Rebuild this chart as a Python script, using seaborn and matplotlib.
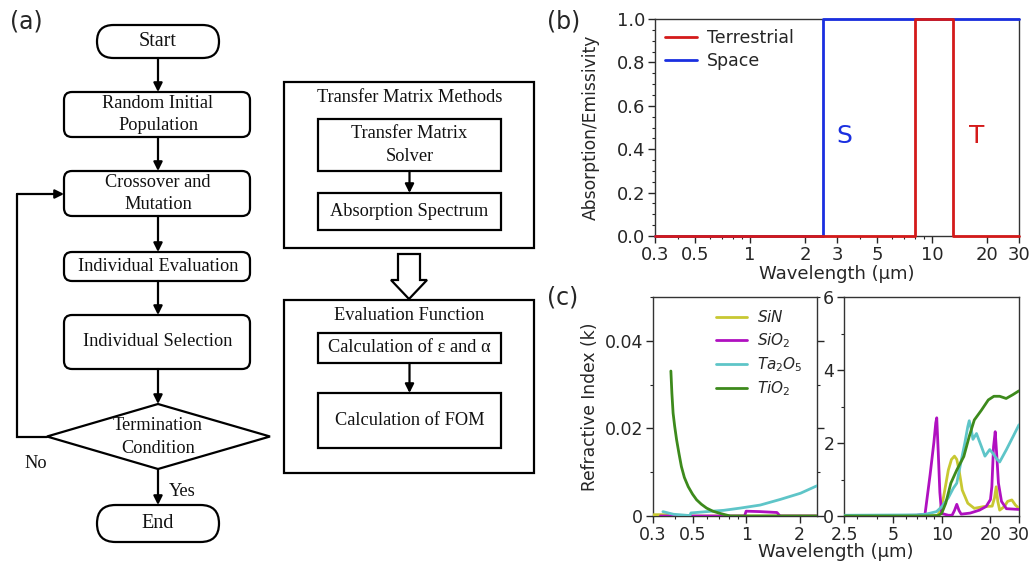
import numpy as np
import matplotlib
matplotlib.use('Agg')
import matplotlib.pyplot as plt
import seaborn as sns
from matplotlib.patches import FancyBboxPatch, Rectangle, Polygon
from matplotlib.ticker import FixedLocator, FixedFormatter, LogLocator, NullFormatter, MultipleLocator

sns.set_style('ticks')
plt.rcParams['font.family'] = ['DejaVu Sans']
plt.rcParams['mathtext.fontset'] = 'dejavusans'

# (b) ideal absorption / emissivity windows
terr_edges = [0.3, 8, 13, 30]
terr_vals = [0, 1, 0, 0]
space_edges = [0.3, 2.5, 30]
space_vals = [0, 1, 1]
b_ticks = [0.3, 0.5, 1, 2, 3, 5, 10, 20, 30]
b_labels = ['0.3', '0.5', '1', '2', '3', '5', '10', '20', '30']

# (c) extinction coefficient k, 0.3-2.5 um
sin_uv_x = [0.3, 0.36, 0.37, 2.5]
sin_uv_k = [0.0003, 0.0003, 0.0, 0.0]
sio2_uv_x = [0.33, 0.98, 1.0, 1.2, 1.49, 1.55, 2.5]
sio2_uv_k = [0.0, 0.0, 0.0011, 0.001, 0.0008, 0.0, 0.0]
ta2o5_uv_x = [0.341, 0.39, 0.483, 0.49, 0.60, 0.75, 0.925, 1.2, 1.56, 2.02, 2.5]
ta2o5_uv_k = [0.001, 0.0004, 0.0001, 0.0007, 0.0010, 0.0013, 0.0018, 0.0025, 0.0038, 0.0052, 0.0069]
tio2_uv_x = [0.378, 0.383, 0.389, 0.397, 0.407, 0.42, 0.433, 0.45, 0.473, 0.5, 0.527, 0.56, 0.60, 0.65, 0.713, 0.813, 1.0, 2.5]
tio2_uv_k = [0.0331, 0.028, 0.0235, 0.0205, 0.0174, 0.0142, 0.0113, 0.0088, 0.0067, 0.005, 0.0037, 0.0027, 0.0018, 0.0011, 0.0006, 0.0, 0.0, 0.0]
uv_ticks = [0.3, 0.5, 1, 2]
uv_labels = ['0.3', '0.5', '1', '2']

# (c) extinction coefficient k, 2.5-30 um
sin_ir_x = [2.5, 8.0, 9.5, 10.2, 11.0, 11.5, 12.0, 12.4, 12.8, 13.4, 14.5, 15.9, 18.3, 20.5, 21.2, 21.7, 22.2, 22.8, 24.4, 25.5, 27.1, 28.5, 30]
sin_ir_k = [0.0, 0.0, 0.02, 0.44, 1.26, 1.55, 1.64, 1.55, 1.26, 0.71, 0.35, 0.21, 0.26, 0.27, 0.5, 0.80, 0.4, 0.16, 0.26, 0.4, 0.44, 0.3, 0.21]
sio2_ir_x = [2.5, 7.0, 7.9, 8.49, 8.96, 9.2, 9.33, 9.53, 9.75, 10.0, 11.0, 11.6, 12.0, 12.4, 12.8, 13.2, 15.0, 17.1, 18.8, 20.0, 20.4, 20.9, 21.4, 21.9, 22.4, 23.4, 25.1, 30]
sio2_ir_k = [0.0, 0.02, 0.05, 1.13, 2.02, 2.55, 2.69, 1.75, 0.65, 0.07, 0.02, 0.02, 0.15, 0.32, 0.15, 0.05, 0.08, 0.16, 0.26, 0.45, 0.8, 1.9, 2.31, 1.63, 0.9, 0.4, 0.2, 0.18]
ta2o5_ir_x = [2.5, 7.0, 8.0, 9.3, 10.0, 11.0, 11.8, 12.4, 13.1, 13.9, 14.5, 14.8, 15.2, 15.6, 16.4, 17.6, 18.5, 19.8, 20.6, 22.0, 22.8, 25.1, 27.6, 30]
ta2o5_ir_k = [0.02, 0.03, 0.05, 0.12, 0.25, 0.5, 0.76, 0.9, 1.44, 2.0, 2.45, 2.61, 2.4, 2.1, 2.26, 1.9, 1.64, 1.82, 1.73, 1.55, 1.48, 1.82, 2.18, 2.5]
tio2_ir_x = [2.5, 8.0, 9.5, 10.0, 10.6, 11.4, 12.4, 13.7, 14.8, 15.9, 17.6, 19.4, 21.0, 22.8, 25.0, 27.4, 30]
tio2_ir_k = [0.0, 0.0, 0.01, 0.07, 0.35, 0.9, 1.26, 1.63, 2.18, 2.63, 2.9, 3.18, 3.28, 3.28, 3.22, 3.32, 3.43]
ir_ticks = [2.5, 5, 10, 20, 30]
ir_labels = ['2.5', '5', '10', '20', '30']

materials = ['$SiN$', '$SiO_2$', '$Ta_2O_5$', '$TiO_2$']
mat_colors = ['#c8c832', '#b010c0', '#5ec5c8', '#3d8a1c']

W, H = 1033, 563
fig = plt.figure(figsize=(W / 100, H / 100), dpi=100)


def px_axes(l, t, r, b):
    return fig.add_axes([l / W, 1 - b / H, (r - l) / W, (b - t) / H])


# ---------- (a) flowchart ----------
ax0 = fig.add_axes([0, 0, 1, 1])
ax0.set_xlim(0, W)
ax0.set_ylim(H, 0)
ax0.axis('off')

serif = ['Liberation Serif', 'DejaVu Serif']
lw = 1.6


def rbox(x0, y0, x1, y1, r=8):
    ax0.add_patch(FancyBboxPatch((x0, y0), x1 - x0, y1 - y0,
                                 boxstyle='round,pad=0,rounding_size=%g' % r,
                                 fc='white', ec='black', lw=lw))


def sbox(x0, y0, x1, y1):
    ax0.add_patch(Rectangle((x0, y0), x1 - x0, y1 - y0, fc='white', ec='black', lw=lw))


def txt(x, y, s, size=13.2):
    ax0.text(x, y, s, ha='center', va='center', family=serif, fontsize=size,
             linespacing=1.45, color='#111111')


def arrow(x0, y0, x1, y1):
    ax0.annotate('', xy=(x1, y1), xytext=(x0, y0),
                 arrowprops=dict(arrowstyle='-|>', lw=lw, color='black',
                                 mutation_scale=13, shrinkA=0, shrinkB=0))


cx = 158
rbox(97, 25, 219, 58, r=16.5)
txt(cx, 42, 'Start', 14.5)
arrow(cx, 58, cx, 92)
rbox(64, 92, 250, 137)
txt(cx, 114.5, 'Random Initial\nPopulation')
arrow(cx, 137, cx, 171)
rbox(64, 171, 250, 216)
txt(cx, 193.5, 'Crossover and\nMutation')
arrow(cx, 216, cx, 252)
rbox(64, 252, 250, 281)
txt(cx, 266.5, 'Individual Evaluation')
arrow(cx, 281, cx, 315)
rbox(64, 315, 250, 369)
txt(cx, 342, 'Individual Selection')
arrow(cx, 369, cx, 404)
ax0.add_patch(Polygon([(47, 436.5), (cx, 404), (270, 436.5), (cx, 469)],
                      closed=True, fc='white', ec='black', lw=lw))
txt(cx, 437, 'Termination\nCondition')
ax0.plot([47, 17, 17], [436.5, 436.5, 194], color='black', lw=lw,
         solid_joinstyle='miter')
arrow(17, 194, 64, 194)
txt(36, 463, 'No')
arrow(cx, 469, cx, 505)
txt(182, 491, 'Yes')
rbox(97, 505, 219, 542, r=18.5)
txt(cx, 523.5, 'End', 14.5)

bx = 409.5
sbox(284, 82, 534, 248)
txt(bx, 98, 'Transfer Matrix Methods')
sbox(318, 119, 501, 171)
txt(bx, 145, 'Transfer Matrix\nSolver')
arrow(bx, 171, bx, 193)
sbox(318, 193, 501, 230)
txt(bx, 211.5, 'Absorption Spectrum')
ax0.add_patch(Polygon([(398, 254), (420, 254), (420, 280), (427, 280), (409, 299),
                       (391, 280), (398, 280)], closed=True, fc='white', ec='black', lw=lw))
sbox(284, 300, 534, 473)
txt(bx, 315, 'Evaluation Function')
sbox(318, 333, 501, 363)
txt(bx, 348, 'Calculation of ε and α')
arrow(bx, 363, bx, 393)
sbox(318, 393, 501, 448)
txt(bx, 420.5, 'Calculation of FOM')

fig.text(10 / W, 1 - 22 / H, '(a)', fontsize=17, va='center', ha='left')
fig.text(547 / W, 1 - 22 / H, '(b)', fontsize=17, va='center', ha='left')
fig.text(547 / W, 1 - 297 / H, '(c)', fontsize=17, va='center', ha='left')


def style_axis(ax, fs=12.5):
    for sp in ax.spines.values():
        sp.set_visible(True)
        sp.set_linewidth(1.0)
        sp.set_color('#333333')
        sp.set_zorder(1)
    ax.tick_params(which='major', length=5, width=1, labelsize=fs, pad=2)
    ax.tick_params(which='minor', length=2.5, width=0.8)


def log_ticks(ax, ticks, labels, lo, hi):
    ax.set_xscale('log')
    ax.set_xlim(lo, hi)
    ax.xaxis.set_major_locator(FixedLocator(ticks))
    ax.xaxis.set_major_formatter(FixedFormatter(labels))
    ax.xaxis.set_minor_locator(LogLocator(base=10, subs=np.arange(2, 10)))
    ax.xaxis.set_minor_formatter(NullFormatter())


# ---------- (b) ----------
axb = px_axes(655, 19, 1019, 236)
sns.lineplot(x=space_edges, y=space_vals, ax=axb, color='#1a2fe0', lw=2,
             drawstyle='steps-post', label='Space', clip_on=False, zorder=3)
sns.lineplot(x=terr_edges, y=terr_vals, ax=axb, color='#d41a1a', lw=2,
             drawstyle='steps-post', label='Terrestrial', clip_on=False, zorder=4)
log_ticks(axb, b_ticks, b_labels, 0.3, 30)
axb.set_ylim(0, 1.0)
axb.yaxis.set_major_locator(MultipleLocator(0.2))
axb.yaxis.set_minor_locator(MultipleLocator(0.05))
axb.yaxis.set_major_formatter(matplotlib.ticker.FormatStrFormatter('%.1f'))
style_axis(axb, 13)
axb.set_xlabel('Wavelength (μm)', fontsize=13, labelpad=1)
axb.set_ylabel('Absorption/Emissivity', fontsize=12.3, labelpad=12)
h, l = axb.get_legend_handles_labels()
axb.legend([h[1], h[0]], [l[1], l[0]], loc='upper left', frameon=False,
           fontsize=12.5, handlelength=1.8, handletextpad=0.6,
           borderaxespad=0.2, labelspacing=0.25)
axb.text(3.3, 0.46, 'S', color='#1a2fe0', fontsize=18, ha='center', va='center')
axb.text(17.5, 0.46, 'T', color='#d41a1a', fontsize=18, ha='center', va='center')

# ---------- (c) left ----------
axc1 = px_axes(653, 297, 817, 516)
uv_sets = [(sin_uv_x, sin_uv_k), (sio2_uv_x, sio2_uv_k),
           (ta2o5_uv_x, ta2o5_uv_k), (tio2_uv_x, tio2_uv_k)]
for (xs, ks), name, col in zip(uv_sets, materials, mat_colors):
    sns.lineplot(x=xs, y=ks, ax=axc1, color=col, lw=2, label=name)
log_ticks(axc1, uv_ticks, uv_labels, 0.3, 2.5)
axc1.set_ylim(0, 0.05)
axc1.yaxis.set_major_locator(FixedLocator([0, 0.02, 0.04]))
axc1.yaxis.set_major_formatter(FixedFormatter(['0', '0.02', '0.04']))
axc1.yaxis.set_minor_locator(MultipleLocator(0.01))
style_axis(axc1)
axc1.tick_params(axis='y', which='both', right=True)
axc1.set_ylabel('Refractive Index (k)', fontsize=12.3, labelpad=4)
axc1.set_xlabel('')
axc1.legend(loc='upper left', bbox_to_anchor=(0.30, 1.006), frameon=False,
            fontsize=11, handlelength=2.0, handletextpad=0.7, labelspacing=0.36)

# ---------- (c) right ----------
axc2 = px_axes(844, 297, 1019, 516)
ir_sets = [(sin_ir_x, sin_ir_k), (sio2_ir_x, sio2_ir_k),
           (ta2o5_ir_x, ta2o5_ir_k), (tio2_ir_x, tio2_ir_k)]
for (xs, ks), col in zip(ir_sets, mat_colors):
    sns.lineplot(x=xs, y=ks, ax=axc2, color=col, lw=2, legend=False)
log_ticks(axc2, ir_ticks, ir_labels, 2.5, 30)
axc2.set_ylim(0, 6)
axc2.yaxis.set_major_locator(MultipleLocator(2))
axc2.yaxis.set_minor_locator(MultipleLocator(1))
style_axis(axc2)
axc2.set_xlabel('')

fig.text(836 / W, 1 - 552 / H, 'Wavelength (μm)', fontsize=13, ha='center', va='center')

fig.savefig('out.png', dpi=100)
